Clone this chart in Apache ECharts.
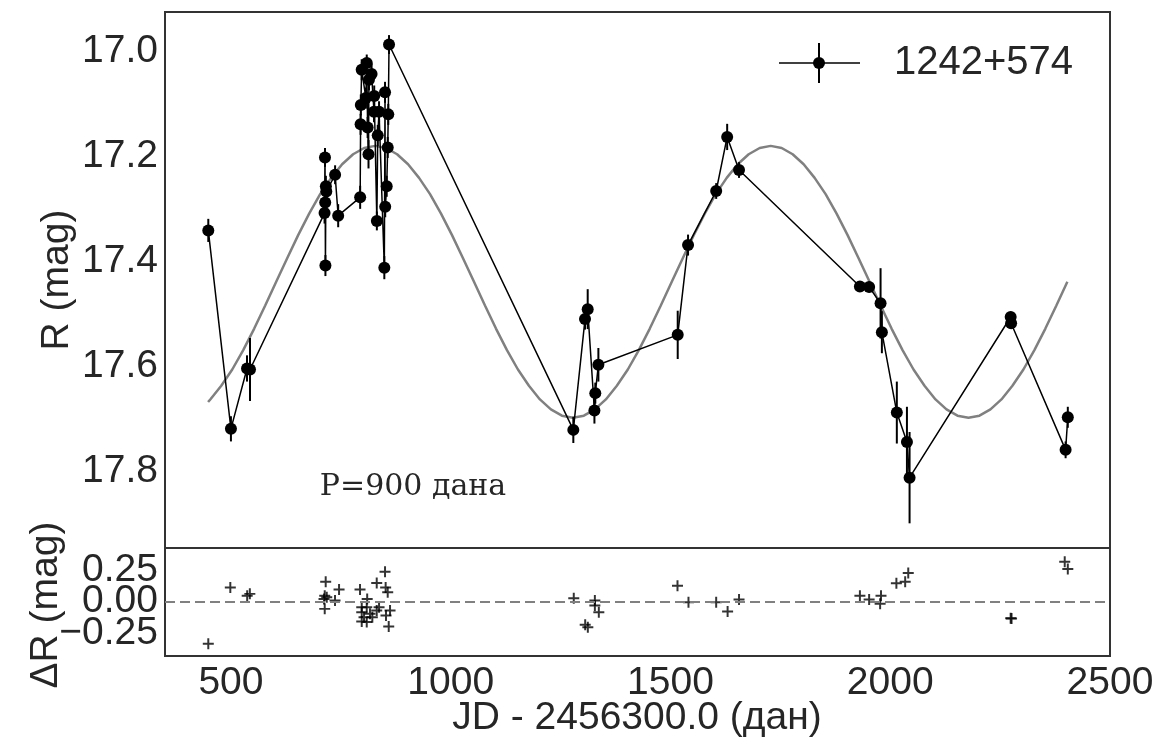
<!DOCTYPE html>
<html><head><meta charset="utf-8">
<script src="https://cdn.jsdelivr.net/npm/echarts@6/dist/echarts.min.js"></script>
<style>html,body{margin:0;padding:0;background:#fff}#c{width:1162px;height:744px}</style>
</head><body><div id="c"></div>
<script>
// Observations (JD - 2456300.0, R mag, error)
const obsX = [448.5, 500, 536.6, 543.4,
  713, 714, 714.5, 715, 716, 717, 737, 744,
  794, 795, 795.5, 797.5, 807, 809, 811, 813, 814, 820, 825.5, 826, 832, 834, 837,
  849, 850.6, 851, 854.4, 856.7, 858, 859.7,
  1279, 1305.6, 1311.7, 1327, 1329, 1336, 1516.5, 1540, 1604, 1629, 1656,
  1931, 1952, 1978, 1981, 2015, 2038, 2044, 2274, 2275, 2399, 2404];
const obsR = [17.342, 17.720, 17.605, 17.607,
  17.309, 17.203, 17.289, 17.409, 17.258, 17.268, 17.236, 17.314,
  17.279, 17.140, 17.103, 17.036, 17.090, 17.023, 17.146, 17.197, 17.055, 17.044, 17.116, 17.086, 17.324, 17.161, 17.116,
  17.413, 17.079, 17.297, 17.258, 17.184, 17.121, 16.988,
  17.722, 17.511, 17.492, 17.685, 17.652, 17.598, 17.541, 17.370, 17.267, 17.164, 17.227,
  17.449, 17.450, 17.481, 17.536, 17.689, 17.745, 17.813, 17.507, 17.519, 17.760, 17.698];
const obsErr = [0.022, 0.024, 0.025, 0.060,
  0.020, 0.018, 0.020, 0.020, 0.020, 0.020, 0.018, 0.022,
  0.022, 0.020, 0.020, 0.020, 0.020, 0.016, 0.020, 0.027, 0.020, 0.020, 0.020, 0.020, 0.018, 0.020, 0.020,
  0.022, 0.020, 0.020, 0.020, 0.020, 0.020, 0.018,
  0.025, 0.020, 0.038, 0.025, 0.020, 0.032, 0.046, 0.020, 0.015, 0.025, 0.015,
  0.010, 0.010, 0.067, 0.040, 0.059, 0.067, 0.087, 0.010, 0.010, 0.016, 0.020];

// Model curve (P = 900 days), every 25 days
const modelX = [448, 453, 478, 503, 528, 553, 578, 603, 628, 653, 678, 703, 728, 753, 778, 803, 828, 853, 878,
  903, 928, 953, 978, 1003, 1028, 1053, 1078, 1103, 1128, 1153, 1178, 1203, 1228, 1253, 1278,
  1303, 1328, 1353, 1378, 1403, 1428, 1453, 1478, 1503, 1528, 1553, 1578, 1603, 1628, 1653, 1678, 1703, 1728,
  1753, 1778, 1803, 1828, 1853, 1878, 1903, 1928, 1953, 1978, 2003, 2028, 2053, 2078, 2103, 2128, 2153, 2178,
  2203, 2228, 2253, 2278, 2303, 2328, 2353, 2378, 2403];
const modelR = [17.669, 17.664, 17.638, 17.607, 17.570, 17.529, 17.485, 17.440, 17.395, 17.351, 17.310, 17.273, 17.242,
  17.216, 17.197, 17.185, 17.181, 17.185, 17.197, 17.216, 17.242, 17.273, 17.310, 17.351, 17.395, 17.440, 17.485,
  17.529, 17.570, 17.607, 17.638, 17.664, 17.683, 17.695, 17.699,
  17.695, 17.683, 17.664, 17.638, 17.607, 17.570, 17.529, 17.485, 17.440, 17.395, 17.351, 17.310, 17.273, 17.242,
  17.216, 17.197, 17.185, 17.181, 17.185, 17.197, 17.216, 17.242, 17.273, 17.310, 17.351, 17.395, 17.440, 17.485,
  17.529, 17.570, 17.607, 17.638, 17.664, 17.683, 17.695, 17.699,
  17.695, 17.683, 17.664, 17.638, 17.607, 17.570, 17.529, 17.485, 17.440];

// Residuals
const resX = [448.5, 498.6, 537, 543, 711.8, 713.4, 713.4, 715.6, 718, 736.8, 746, 793.7, 797.6, 797.6, 797.6,
  802.8, 809, 809, 810, 816.4, 821.7, 831.7, 831.7, 837, 850.6, 852, 852.8, 856.7, 859, 862,
  1280, 1306, 1312, 1328, 1328, 1337, 1516, 1541, 1604, 1630, 1656,
  1931, 1952, 1977, 1979, 2014, 2034, 2041, 2274, 2276, 2397, 2404];
const resR = [-0.334, 0.111, 0.047, 0.061, 0.021, 0.047, -0.058, 0.158, 0.034, 0.008, 0.095, 0.095, -0.045, -0.085, -0.158,
  -0.124, -0.045, -0.163, 0.021, -0.097, -0.124, 0.148, -0.071, -0.045, 0.237, 0.111, -0.111, 0.074, -0.198, -0.071,
  0.026, -0.184, -0.203, 0.008, -0.032, -0.085, 0.126, -0.005, -0.005, -0.079, 0.016,
  0.047, 0.016, -0.018, 0.047, 0.145, 0.158, 0.227, -0.132, -0.135, 0.316, 0.258];

const xTicks = [500, 1000, 1500, 2000, 2500];
const rTicks = [17.0, 17.2, 17.4, 17.6, 17.8];
const resTicksOuter = [-0.25, 0.25];
const resTicksZero = [0.0];

const FONT = 'Liberation Sans';
const TXT = '#262626';
const RES_MIN = -0.432, RES_MAX = 0.425;
const chart = echarts.init(document.getElementById('c'), null, {renderer: 'canvas'});

const baseAxis = {
  axisLine: {show: false}, axisTick: {show: false}, splitLine: {show: false}
};
const resFmt = v => (v < -1e-9 ? '\u2212' : '') + Math.abs(v).toFixed(2);

chart.setOption({
  animation: false,
  backgroundColor: '#fff',
  grid: [
    {left: 165, top: 12, width: 945, height: 536, show: true, borderColor: '#333', borderWidth: 2, backgroundColor: 'transparent'},
    {left: 165, top: 548, width: 945, height: 108, show: true, borderColor: '#333', borderWidth: 2, backgroundColor: 'transparent'}
  ],
  xAxis: [
    Object.assign({type: 'value', gridIndex: 0, min: 350, max: 2500, axisLabel: {show: false}}, baseAxis),
    Object.assign({type: 'value', gridIndex: 1, min: 350, max: 2500,
      axisLabel: {customValues: xTicks, fontSize: 39, fontFamily: FONT, color: TXT, margin: 8, hideOverlap: false,
        showMinLabel: true, showMaxLabel: true,
        formatter: v => String(Math.round(v))}}, baseAxis)
  ],
  yAxis: [
    Object.assign({type: 'value', gridIndex: 0, inverse: true, min: 16.926, max: 17.947,
      axisLabel: {customValues: rTicks, fontSize: 39, fontFamily: FONT, color: TXT, margin: 7, hideOverlap: false,
        showMinLabel: true, showMaxLabel: true,
        formatter: v => v.toFixed(1)}}, baseAxis),
    Object.assign({type: 'value', gridIndex: 1, min: RES_MIN, max: RES_MAX,
      axisLabel: {customValues: resTicksOuter, fontSize: 39, fontFamily: FONT, color: TXT, margin: 7,
        hideOverlap: false, showMinLabel: true, showMaxLabel: true, formatter: resFmt}}, baseAxis),
    Object.assign({type: 'value', gridIndex: 1, min: RES_MIN, max: RES_MAX, position: 'left',
      axisLabel: {customValues: resTicksZero, fontSize: 39, fontFamily: FONT, color: TXT, margin: 7,
        hideOverlap: false, showMinLabel: true, showMaxLabel: true, formatter: resFmt}}, baseAxis)
  ],
  series: [
    {
      type: 'line', xAxisIndex: 0, yAxisIndex: 0, z: 1,
      data: modelX.map((x, i) => [x, modelR[i]]),
      smooth: false, symbol: 'none',
      lineStyle: {color: '#808080', width: 2.5}
    },
    {
      type: 'custom', xAxisIndex: 0, yAxisIndex: 0, z: 2,
      data: obsX.map((x, i) => [x, obsR[i], obsErr[i]]),
      encode: {x: 0, y: 1},
      renderItem: function (params, api) {
        const x = api.value(0), y = api.value(1), e = api.value(2);
        const p1 = api.coord([x, y - e]);
        const p2 = api.coord([x, y + e]);
        return {type: 'line', shape: {x1: p1[0], y1: p1[1], x2: p2[0], y2: p2[1]},
          style: {stroke: '#000', lineWidth: 2}};
      }
    },
    {
      type: 'line', xAxisIndex: 0, yAxisIndex: 0, z: 3,
      data: obsX.map((x, i) => [x, obsR[i]]),
      symbol: 'circle', symbolSize: 12, showAllSymbol: true,
      itemStyle: {color: '#000'},
      lineStyle: {color: '#000', width: 1.5}
    },
    {
      type: 'scatter', xAxisIndex: 1, yAxisIndex: 1, z: 3,
      data: resX.map((x, i) => [x, resR[i]]),
      symbol: 'path://M4.1,0 h1.8 v4.1 h4.1 v1.8 h-4.1 v4.1 h-1.8 v-4.1 h-4.1 v-1.8 h4.1 z',
      symbolSize: 11,
      itemStyle: {color: '#000'},
      markLine: {
        silent: true, symbol: ['none', 'none'], label: {show: false},
        lineStyle: {color: '#808080', width: 2, type: [10, 5]},
        data: [{yAxis: 0}]
      }
    }
  ],
  graphic: [
    {type: 'text', x: 57, y: 280, rotation: Math.PI / 2,
      style: {text: 'R (mag)', fontSize: 39, fontFamily: FONT, fill: TXT, align: 'center', verticalAlign: 'middle'}},
    {type: 'text', x: 46, y: 605, rotation: Math.PI / 2,
      style: {text: '\u0394R (mag)', fontSize: 39, fontFamily: FONT, fill: TXT, align: 'center', verticalAlign: 'middle'}},
    {type: 'text', x: 637, y: 718,
      style: {text: 'JD - 2456300.0 (дан)', fontSize: 39, fontFamily: FONT, fill: TXT, align: 'center', verticalAlign: 'middle'}},
    {type: 'text', x: 413, y: 487,
      style: {text: 'P=900 дана', fontSize: 30, fontFamily: 'DejaVu Serif', fill: TXT, align: 'center', verticalAlign: 'middle'}},
    {type: 'line', shape: {x1: 779, y1: 63, x2: 860, y2: 63}, style: {stroke: '#000', lineWidth: 1.5}},
    {type: 'line', shape: {x1: 819, y1: 43, x2: 819, y2: 83}, style: {stroke: '#000', lineWidth: 2}},
    {type: 'circle', shape: {cx: 819, cy: 63, r: 6}, style: {fill: '#000'}},
    {type: 'text', x: 894, y: 63,
      style: {text: '1242+574', fontSize: 40, fontFamily: FONT, fill: TXT, align: 'left', verticalAlign: 'middle'}}
  ]
});
</script>
</body></html>
